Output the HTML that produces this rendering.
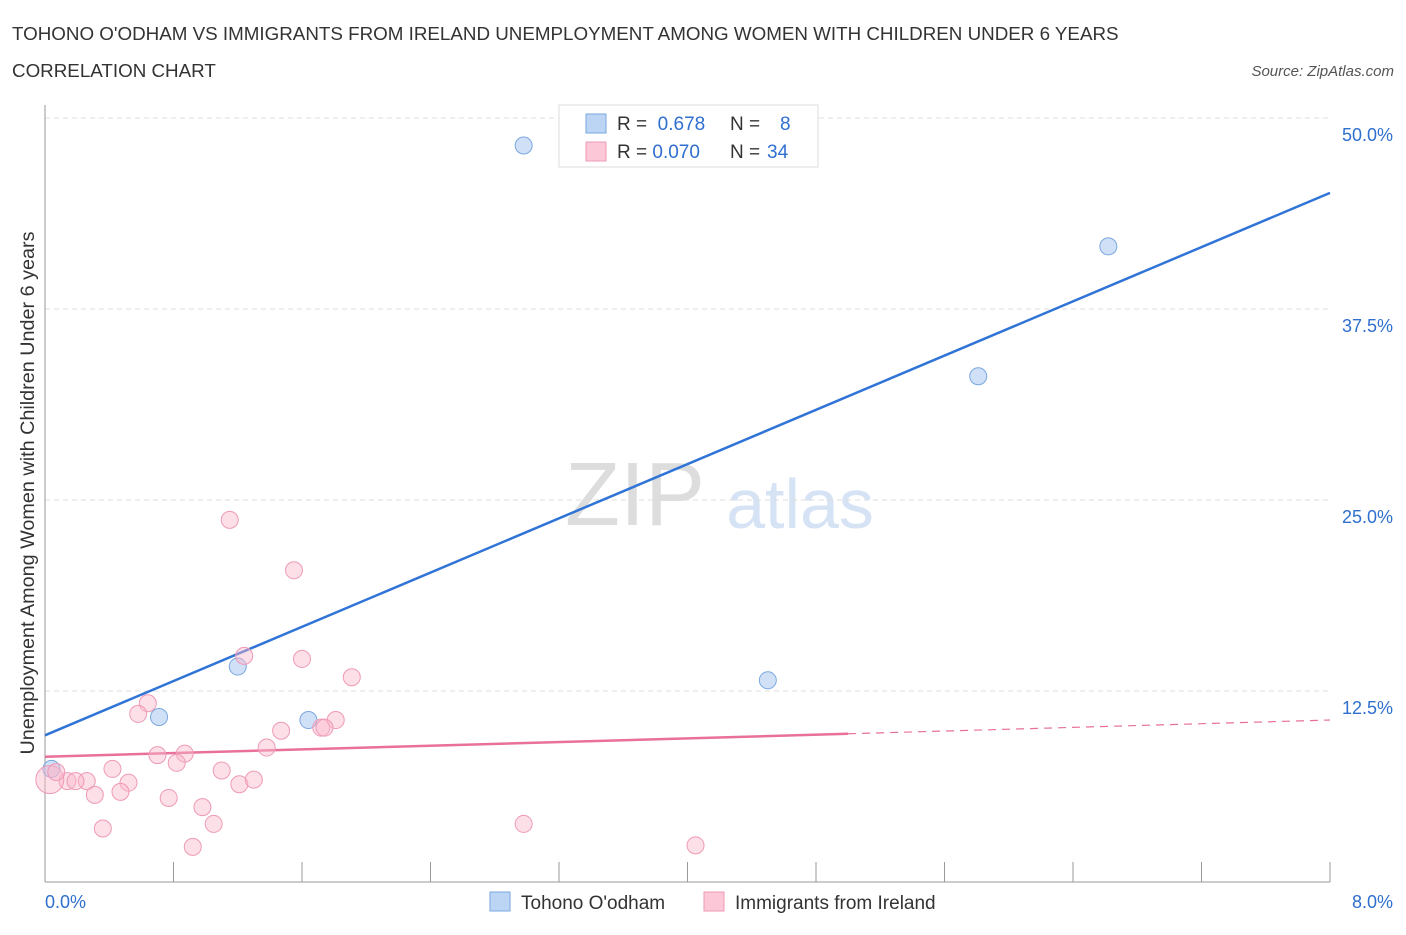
<!DOCTYPE html>
<html><head><meta charset="utf-8"><style>
body{margin:0;background:#fff;font-family:"Liberation Sans",sans-serif;}
svg text{font-family:"Liberation Sans",sans-serif;}
</style></head><body>
<svg id="c" width="1406" height="930">
<text x="12" y="40" font-size="18.8" fill="#333">TOHONO O'ODHAM VS IMMIGRANTS FROM IRELAND UNEMPLOYMENT AMONG WOMEN WITH CHILDREN UNDER 6 YEARS</text>
<text x="12" y="77" font-size="18.8" fill="#333">CORRELATION CHART</text>
<text x="1394" y="76" font-size="15" font-style="italic" fill="#555" text-anchor="end">Source: ZipAtlas.com</text>
<text x="635" y="525" font-size="90" fill="#ddd" font-family="Liberation Serif" text-anchor="middle">ZIP</text>
<text x="800" y="528" font-size="70" fill="#d5e3f5" text-anchor="middle">atlas</text>
<text transform="translate(34,493) rotate(-90)" font-size="19.8" fill="#333" text-anchor="middle">Unemployment Among Women with Children Under 6 years</text>
<g id="grid"></g><g id="axes"></g><g id="lines"></g><g id="pts"></g>
<g>
<rect x="559" y="105" width="259" height="62" fill="#fff" stroke="#ddd"/>
<rect x="586" y="114" width="20" height="19" fill="#bcd5f5" stroke="#7aa7e0"/>
<rect x="586" y="142" width="20" height="19" fill="#fcc8d8" stroke="#ee9ab5"/>
<text x="617" y="130" font-size="19" fill="#333">R = <tspan fill="#2f6fcf">&#160;0.678</tspan><tspan x="730">N = </tspan><tspan x="780" fill="#2f6fcf">8</tspan></text>
<text x="617" y="158" font-size="19" fill="#333">R = <tspan fill="#2f6fcf">0.070</tspan><tspan x="730">N = </tspan><tspan x="767" fill="#2f6fcf">34</tspan></text>
</g>
<g>
<rect x="490" y="892" width="20" height="19" fill="#bcd5f5" stroke="#7aa7e0"/>
<text x="521" y="909" font-size="19" fill="#333">Tohono O'odham</text>
<rect x="704" y="892" width="20" height="19" fill="#fcc8d8" stroke="#ee9ab5"/>
<text x="735" y="909" font-size="19" fill="#333">Immigrants from Ireland</text>
</g>
</svg>
<script>
const yTicks=[12.5,25,37.5,50];
const yTickLabels=["12.5%","25.0%","37.5%","50.0%"];
const blueX=[2.98,6.62,5.81,4.5,1.2,0.71,1.64,0.04];
const blueY=[48.2,41.6,33.1,13.2,14.1,10.8,10.6,7.4];
const pinkX=[1.15,1.55,1.24,1.6,1.91,0.64,0.58,1.81,1.72,1.74,1.47,1.38,0.87,0.70,0.82,0.42,1.1,0.26,0.14,0.19,0.52,1.21,1.3,0.31,0.47,0.77,0.98,1.05,0.36,0.92,2.98,4.05,0.03,0.07];
const pinkY=[23.7,20.4,14.8,14.6,13.4,11.7,11.0,10.6,10.1,10.1,9.9,8.8,8.4,8.3,7.8,7.4,7.3,6.6,6.6,6.6,6.5,6.4,6.7,5.7,5.9,5.5,4.9,3.8,3.5,2.3,3.8,2.4,6.7,7.2];
const blueFit=[9.6,45.1];const pinkFit=[8.2,10.6];const pinkSolidEnd=5.0;
const X=v=>45+v/8*1285, Y=v=>882-v/12.5*191;
const NS="http://www.w3.org/2000/svg";
function mk(p,t,a){const e=document.createElementNS(NS,t);for(const k in a)e.setAttribute(k,a[k]);document.getElementById(p).appendChild(e);return e;}
yTicks.forEach((t,i)=>{
 const g=mk('grid','line',{x1:45,x2:1330,y1:Y(t),y2:Y(t),stroke:'#ddd','stroke-dasharray':'5,4'});
 
 
 const l=mk('grid','text',{x:1393,y:Y(t)+23,'font-size':18,fill:'#2f6fcf','text-anchor':'end'});l.textContent=yTickLabels[i];
 
 
});
mk('axes','line',{x1:45,x2:45,y1:105,y2:882,stroke:'#999'});
mk('axes','line',{x1:45,x2:1330,y1:882,y2:882,stroke:'#999'});
for(let i=0;i<=10;i++){const xx=X(i*0.8);const tk=mk('axes','line',{x1:xx,x2:xx,y1:862,y2:882,stroke:'#999'});
 
 }
let t1=mk('axes','text',{x:45,y:908,'font-size':18,fill:'#2f6fcf'});t1.textContent='0.0%';


let t2=mk('axes','text',{x:1393,y:908,'font-size':18,fill:'#2f6fcf','text-anchor':'end'});t2.textContent='8.0%';


const pf=v=>pinkFit[0]+(pinkFit[1]-pinkFit[0])*v/8;
blueX.forEach((x,i)=>{const c=mk('pts','circle',{cx:X(x),cy:Y(blueY[i]),r:8.5,fill:'rgba(170,200,240,0.55)',stroke:'#7aa7e0'});
 
 });
pinkX.forEach((x,i)=>{const c=mk('pts','circle',{cx:X(x),cy:Y(pinkY[i]),r:i==32?14:8.5,fill:'rgba(250,185,205,0.45)',stroke:'#ee9ab5'});
 
 });
let b=mk('lines','line',{x1:X(0),y1:Y(blueFit[0]),x2:X(8),y2:Y(blueFit[1]),stroke:'#2f74d6','stroke-width':2.5});


let p=mk('lines','line',{x1:X(0),y1:Y(pf(0)),x2:X(pinkSolidEnd),y2:Y(pf(pinkSolidEnd)),stroke:'#e8709a','stroke-width':2.5});


let pd=mk('lines','line',{x1:X(pinkSolidEnd),y1:Y(pf(pinkSolidEnd)),x2:X(8),y2:Y(pf(8)),stroke:'#e8709a','stroke-width':1.2,'stroke-dasharray':'8,6'});


</script>
</body></html>
